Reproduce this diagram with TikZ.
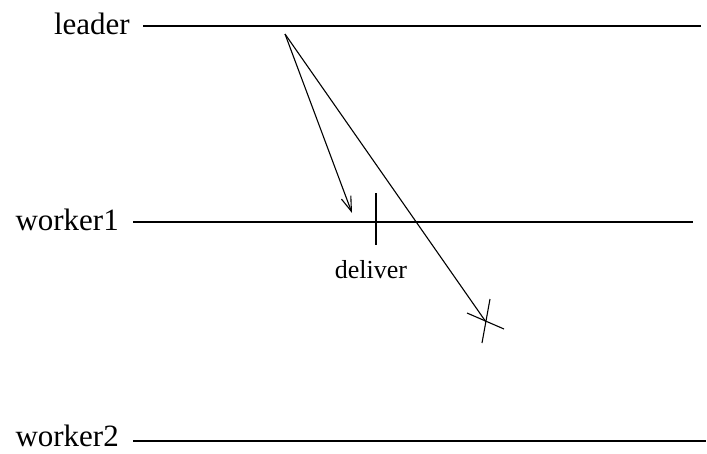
\documentclass[tikz,border=0pt]{standalone}
\usepackage{fontspec}
\setmainfont{Liberation Serif}
\usetikzlibrary{arrows.meta,positioning,calc}

\begin{document}
\begin{tikzpicture}[
			x=1pt, y=-1pt,
			proc/.style={inner sep=0pt, anchor=base east, font=\fontsize{31}{36}\selectfont},
			event/.style={inner sep=0pt, font=\fontsize{26}{30}\selectfont},
			line/.style={line width=1.1pt},
			>={Straight Barb[length=15pt,width=10pt,line width=1.1pt]}
			]
			\useasboundingbox (0,0) rectangle (707,453);
			% lifelines
			\coordinate (leaderS) at (143,26);  \coordinate (leaderE) at (701,26);
			\coordinate (worker1S) at (133,222); \coordinate (worker1E) at (693,222);
			\coordinate (worker2S) at (133,441); \coordinate (worker2E) at (706,441);
			\node[proc] (leader) at ($(leaderS)+(-13,8)$) {leader};
			\node[proc] (worker1) at ($(worker1S)+(-14,8)$) {worker1};
			\node[proc] (worker2) at ($(worker2S)+(-14,5)$) {worker2};
			\draw[line] (leaderS) -- (leaderE);
			\draw[line] (worker1S) -- (worker1E);
			\draw[line] (worker2S) -- (worker2E);
			
			% messages
			\coordinate (send) at (285,34);
			\coordinate (recv) at (352,213);
			\coordinate (lost) at (486,322);
			\draw[line,->] (send) -- (recv);
			\draw[line] (send) -- (lost);
			\draw[line] ($(lost)+(-19,-9)$) -- ($(lost)+(18,7)$);
			\draw[line] ($(lost)+(4,-23)$) -- ($(lost)+(-4,21)$);
			
			% deliver event
			\coordinate (dtop) at (376,193);
			\coordinate (dbot) at (376,245);
			\draw[line] (dtop) -- (dbot);
			\node[event] (deliver) at (371,270) {deliver};
		\end{tikzpicture}
\end{document}
